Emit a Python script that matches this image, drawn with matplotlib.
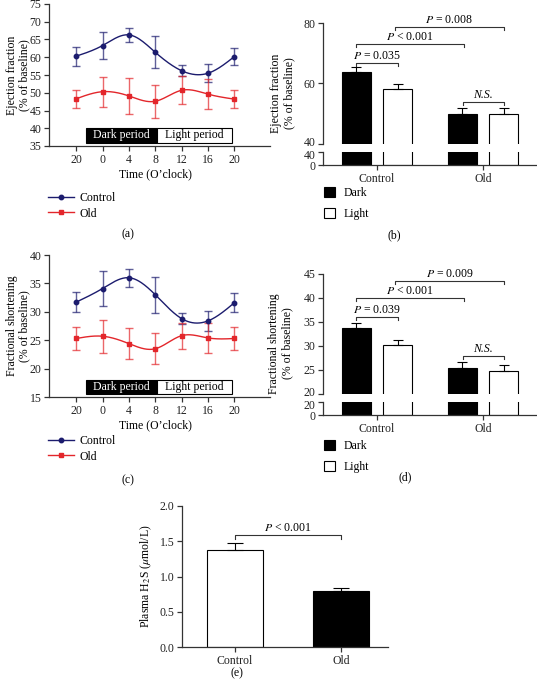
import numpy as np
import matplotlib
matplotlib.use("Agg")
import matplotlib.pyplot as plt
import matplotlib.transforms as mtransforms
from matplotlib.patches import Rectangle
from matplotlib.lines import Line2D

plt.rcParams['font.family'] = ['Liberation Serif', 'DejaVu Serif']
plt.rcParams['font.size'] = 8.5
plt.rcParams['mathtext.fontset'] = 'stix'

# ---- data ----
time_labels = ['20', '0', '4', '8', '12', '16', '20']

ef_control = [60.3, 63.3, 66.3, 61.4, 56.2, 55.5, 60.2]
ef_control_err = [2.7, 3.9, 1.9, 4.5, 1.5, 2.5, 2.5]
ef_old = [48.3, 50.3, 49.1, 47.6, 50.7, 49.6, 48.2]
ef_old_err = [2.6, 4.2, 5.0, 4.7, 4.0, 4.3, 2.5]

fs_control = [31.7, 34.1, 36.0, 33.0, 28.8, 28.4, 31.6]
fs_control_err = [1.8, 3.0, 1.6, 3.2, 1.0, 1.7, 1.7]
fs_old = [25.3, 25.7, 24.4, 23.5, 25.8, 25.4, 25.3]
fs_old_err = [2.0, 2.9, 2.7, 2.7, 2.3, 2.7, 2.0]

groups = ['Control', 'Old']
ef_dark = [63.8, 49.8]
ef_dark_err = [1.5, 2.1]
ef_light = [58.3, 49.8]
ef_light_err = [1.5, 2.2]

fs_dark = [33.8, 25.4]
fs_dark_err = [1.0, 1.3]
fs_light = [30.2, 24.8]
fs_light_err = [1.0, 1.3]

h2s_groups = ['Control', 'Old']
h2s_vals = [1.37, 0.80]
h2s_err = [0.10, 0.04]

NAVY = '#1c1c6e'
RED = '#e3262b'
AX = '#333333'
FS = 8.5

W, H = 537, 686
fig = plt.figure(figsize=(W / 100, H / 100), dpi=100)


def box(l, t, r, b):
    return [l / W, 1 - b / H, (r - l) / W, (b - t) / H]


def spline(x, y, n=200):
    # natural cubic spline for the smoothed line
    x = np.asarray(x, float)
    y = np.asarray(y, float)
    k = len(x)
    h = np.diff(x)
    A = np.zeros((k, k))
    rhs = np.zeros(k)
    A[0, 0] = A[-1, -1] = 1
    for i in range(1, k - 1):
        A[i, i - 1] = h[i - 1]
        A[i, i] = 2 * (h[i - 1] + h[i])
        A[i, i + 1] = h[i]
        rhs[i] = 3 * ((y[i + 1] - y[i]) / h[i] - (y[i] - y[i - 1]) / h[i - 1])
    c = np.linalg.solve(A, rhs)
    xs = np.linspace(x[0], x[-1], n)
    ys = np.empty_like(xs)
    for j, xv in enumerate(xs):
        i = min(np.searchsorted(x, xv, side='right') - 1, k - 2)
        b = (y[i + 1] - y[i]) / h[i] - h[i] * (2 * c[i] + c[i + 1]) / 3
        d = (c[i + 1] - c[i]) / (3 * h[i])
        dx = xv - x[i]
        ys[j] = y[i] + b * dx + c[i] * dx ** 2 + d * dx ** 3
    return xs, ys


def style(ax, bottom=True):
    ax.spines['top'].set_visible(False)
    ax.spines['right'].set_visible(False)
    for s in ['left', 'bottom']:
        ax.spines[s].set_color(AX)
        ax.spines[s].set_linewidth(0.9)
    if not bottom:
        ax.spines['bottom'].set_visible(False)
    ax.tick_params(colors=AX, labelcolor='#222222', length=3.5, width=0.9,
                   pad=2, labelsize=FS)


def line_panel(rect, ylim, yticks, ctrl, ctrl_err, old, old_err, ylabel, boxy):
    ax = fig.add_axes(rect)
    x = np.arange(len(time_labels))
    for vals, errs, col in [(ctrl, ctrl_err, NAVY), (old, old_err, RED)]:
        xs, ys = spline(x, vals)
        ax.plot(xs, ys, color=col, lw=1.0, zorder=3)
        ax.errorbar(x, vals, yerr=errs, fmt='none', ecolor=col, alpha=0.7,
                    elinewidth=1.0, capsize=2.8, capthick=1.0, zorder=2)
    ax.plot(x, ctrl, 'o', color=NAVY, ms=3.2, zorder=4)
    ax.plot(x, old, 's', color=RED, ms=3.2, zorder=4)
    ax.set_xlim(-1.03, 7.35)
    ax.set_ylim(*ylim)
    ax.set_yticks(yticks)
    ax.set_xticks(x)
    ax.set_xticklabels(time_labels)
    style(ax)
    ax.set_ylabel(ylabel, linespacing=1.1)
    ax.yaxis.set_label_coords(-0.083, 0.5)
    y0, y1 = boxy
    ax.add_patch(Rectangle((0.38, y0), 2.69, y1 - y0, facecolor='black',
                           edgecolor='black', lw=0.8, zorder=5))
    ax.add_patch(Rectangle((3.07, y0), 2.83, y1 - y0, facecolor='white',
                           edgecolor='black', lw=0.8, zorder=5))
    ax.text(1.72, (y0 + y1) / 2, 'Dark period', color='white', ha='center',
            va='center', fontsize=FS, zorder=6)
    ax.text(4.48, (y0 + y1) / 2, 'Light period', color='black', ha='center',
            va='center', fontsize=FS, zorder=6)
    ax.text(3, -0.16, "Time (O\u2019clock)", transform=ax.get_xaxis_transform(),
            ha='center', va='top', fontsize=FS)
    return ax


def bracket(ax, x0, x1, y, drop, text, italic_all=False):
    ax.plot([x0, x0, x1, x1], [y - drop, y, y, y - drop], color=AX, lw=0.8,
            clip_on=False)
    ax.text((x0 + x1) / 2, y + drop * 0.3, text, ha='center', va='bottom',
            fontsize=FS, style='italic' if italic_all else 'normal')


def nudge(label, dy_px):
    off = mtransforms.ScaledTranslation(0, dy_px / 100, fig.dpi_scale_trans)
    label.set_transform(label.get_transform() + off)


def bar_panel(rect_up, rect_lo, ylim_up, yticks_up, lo_top, dark, dark_err,
              light, light_err, ylabel, brackets, drop, label_x):
    axu = fig.add_axes(rect_up)
    axl = fig.add_axes(rect_lo)
    x = np.arange(len(groups))
    off, w = 0.195, 0.27
    for ax in (axu, axl):
        ax.bar(x - off, dark, w, color='black', edgecolor='black', lw=0.8)
        ax.bar(x + off, light, w, color='white', edgecolor='black', lw=0.8)
        ax.set_xlim(-0.51, 1.5)
    axu.errorbar(x - off, dark, yerr=[[0, 0], dark_err], fmt='none',
                 ecolor='black', elinewidth=0.8, capsize=3.5, capthick=0.8)
    axu.errorbar(x + off, light, yerr=[[0, 0], light_err], fmt='none',
                 ecolor='black', elinewidth=0.8, capsize=3.5, capthick=0.8)
    axu.set_ylim(*ylim_up)
    axu.set_yticks(yticks_up)
    axu.set_xticks([])
    style(axu, bottom=False)
    axl.set_ylim(0, lo_top)
    axl.set_yticks([0, lo_top])
    axl.set_xticks(x)
    axl.set_xticklabels(groups)
    style(axl)
    # keep the two labels at the break apart
    nudge(axu.yaxis.get_major_ticks()[0].label1, 2.5)
    nudge(axl.yaxis.get_major_ticks()[1].label1, -2.5)
    axu.set_ylabel(ylabel, linespacing=1.1)
    axu.yaxis.set_label_coords(label_x, 0.42)
    for (i0, i1, y, txt, ital) in brackets:
        bracket(axu, i0, i1, y, drop, txt, ital)
    return axu, axl


# (a)
line_panel(box(49, 4, 270, 146), (35, 75), range(35, 80, 5),
           ef_control, ef_control_err, ef_old, ef_old_err,
           'Ejection fraction\n(% of baseline)', (35.85, 40.1))

# (c)
line_panel(box(49, 255, 270, 397), (15, 40), range(15, 45, 5),
           fs_control, fs_control_err, fs_old, fs_old_err,
           'Fractional shortening\n(% of baseline)', (15.55, 18.0))

# legends for (a) and (c)
for ytop in (192, 435):
    h1 = Line2D([], [], color=NAVY, marker='o', ms=3.2, lw=1.0)
    h2 = Line2D([], [], color=RED, marker='s', ms=3.2, lw=1.0)
    fig.legend([h1, h2], ['Control', 'Old'], loc='upper left',
               bbox_to_anchor=(48 / W, 1 - ytop / H), frameon=False,
               handlelength=2.2, handletextpad=0.5, labelspacing=0.3,
               fontsize=FS, borderaxespad=0, borderpad=0)

# (b)
pe = '$P$'
bar_panel(box(323, 23, 536, 144), box(323, 152, 536, 165), (40, 80), [40, 60, 80], 40,
          ef_dark, ef_dark_err, ef_light, ef_light_err,
          'Ejection fraction\n(% of baseline)',
          [(-0.195, 0.195, 66.9, pe + ' = 0.035', False),
           (-0.195, 0.82, 73.2, pe + ' < 0.001', False),
           (0.17, 1.195, 78.8, pe + ' = 0.008', False),
           (0.81, 1.195, 53.9, 'N.S.', True)], 1.0, -0.13)

# (d)
bar_panel(box(323, 274, 536, 394), box(323, 402, 536, 415), (20, 45), range(20, 50, 5), 20,
          fs_dark, fs_dark_err, fs_light, fs_light_err,
          'Fractional shortening\n(% of baseline)',
          [(-0.195, 0.195, 36.0, pe + ' = 0.039', False),
           (-0.195, 0.82, 40.0, pe + ' < 0.001', False),
           (0.17, 1.195, 43.5, pe + ' = 0.009', False),
           (0.81, 1.195, 27.9, 'N.S.', True)], 0.6, -0.14)

# legends for (b) and (d)
for ytop in (187, 440):
    hd = Rectangle((0, 0), 1, 1, facecolor='black', edgecolor='black', lw=0.8)
    hl = Rectangle((0, 0), 1, 1, facecolor='white', edgecolor='black', lw=0.8)
    fig.legend([hd, hl], ['Dark', 'Light'], loc='upper left',
               bbox_to_anchor=(324 / W, 1 - ytop / H), frameon=False,
               handlelength=0.9, handleheight=0.9, handletextpad=0.8,
               labelspacing=0.75, fontsize=FS, borderaxespad=0, borderpad=0)

# (e)
axe = fig.add_axes(box(182, 506, 388, 647))
xe = np.arange(len(h2s_groups))
axe.bar(xe, h2s_vals, 0.52, color=['white', 'black'], edgecolor='black', lw=0.8)
axe.errorbar(xe, h2s_vals, yerr=[[0, 0], h2s_err], fmt='none', ecolor='black',
             elinewidth=0.8, capsize=6, capthick=0.8)
axe.set_xlim(-0.5, 1.443)
axe.set_ylim(0, 2.0)
axe.set_yticks([0, 0.5, 1.0, 1.5, 2.0])
axe.set_yticklabels(['0.0', '0.5', '1.0', '1.5', '2.0'])
axe.set_xticks(xe)
axe.set_xticklabels(h2s_groups)
style(axe)
axe.set_ylabel('Plasma H$_2$S ($\\mu$mol/L)')
axe.yaxis.set_label_coords(-0.135, 0.5)
bracket(axe, 0, 1, 1.59, 0.06, '$P$ < 0.001')

# captions
for (cx, cy, lab) in [(128, 234, '(a)'), (394, 235, '(b)'), (128, 480, '(c)'),
                      (405, 477, '(d)'), (237, 673, '(e)')]:
    fig.text(cx / W, 1 - cy / H, lab, ha='center', va='center', fontsize=FS)

fig.savefig('out.png', dpi=100, facecolor='white')
